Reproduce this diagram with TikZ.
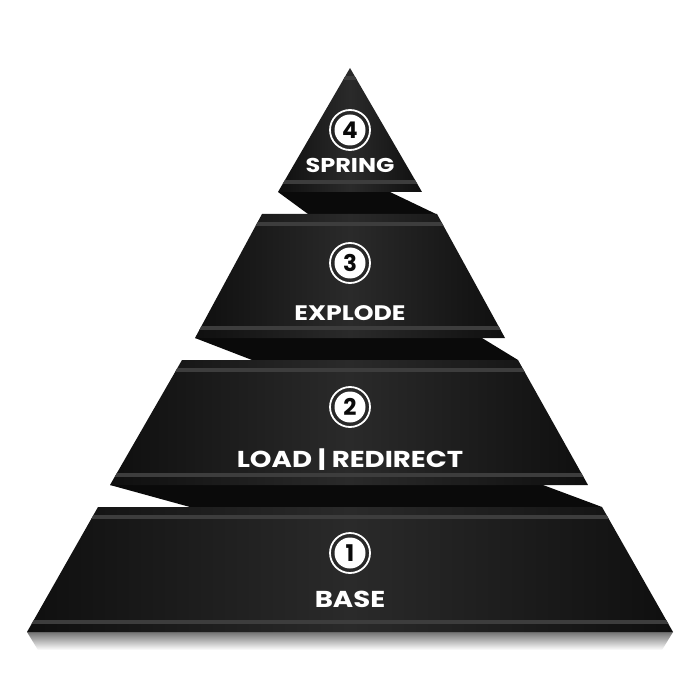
\documentclass[tikz,border=0pt]{standalone}
\usepackage{fontspec}
\newfontfamily\pyrfont[FakeStretch=1.2]{Poppins}
\newfontfamily\numfont{Poppins}
\usetikzlibrary{positioning}

\definecolor{slab}{HTML}{2A2A2A}
\definecolor{slabedge}{HTML}{0F0F0F}
\definecolor{slabshade}{HTML}{0A0A0A}
\definecolor{stripe}{HTML}{3D3D3D}

\begin{document}
\begin{tikzpicture}[x=1pt,y=-1pt,
  slab/.style={left color=slabedge,right color=slabedge,middle color=slab},
  under/.style={fill=slabshade},
  band/.style={draw=stripe,line width=3.5pt},
  ring/.style={circle,draw=white,line width=1.8pt,minimum size=40pt,inner sep=0pt},
  num/.style={circle,fill=white,text=slabshade,minimum size=31pt,inner sep=0pt,
    font=\numfont\bfseries\fontsize{23}{23}\selectfont},
  tag/.style={text=white,anchor=base,inner sep=0pt,
    font=\pyrfont\bfseries\fontsize{#1}{26}\selectfont}]
\useasboundingbox (0,0) rectangle (700,700);

% soft shadow under the base
\shade[top color=black!55,bottom color=white] (27,632) -- (673,632) -- (662,650) -- (38,650) -- cycle;

% dark undersides between the layers
\fill[under] (278,192) -- (390,192) -- (436,214) -- (308,214) -- cycle;
\fill[under] (195,338) -- (482,338) -- (518,360) -- (252,360) -- cycle;
\fill[under] (110,485) -- (543,485) -- (602,507) -- (190,507) -- cycle;

% the four layers, each with two bands
\foreach \n/\tl/\tr/\ty/\bl/\br/\by in {4/350/350/68/278/422/192,
    3/262/437/214/195/505/338, 2/182/518/360/110/588/485, 1/98/602/507/27/673/632} {
  \begin{scope}
    \path[slab] (\tl,\ty) -- (\tr,\ty) -- (\br,\by) -- (\bl,\by) -- cycle;
    \clip (\tl,\ty) -- (\tr,\ty) -- (\br,\by) -- (\bl,\by) -- cycle;
    \draw[band] (0,\ty+10) -- (700,\ty+10);
    \draw[band] (0,\by-10) -- (700,\by-10);
  \end{scope}
}

% numbers and names
\foreach \n/\cy/\ly/\fs/\name in {4/130/173/20/SPRING, 3/263/320/21/EXPLODE,
    2/407/467/23/LOAD | REDIRECT, 1/553/607/23/BASE} {
  \node (r\n) [ring] at (350,\cy) {};
  \node (c\n) [num] at (350,\cy) {\n};
  \node (t\n) [tag=\fs] at (350,\ly) {\name};
}
\end{tikzpicture}
\end{document}
